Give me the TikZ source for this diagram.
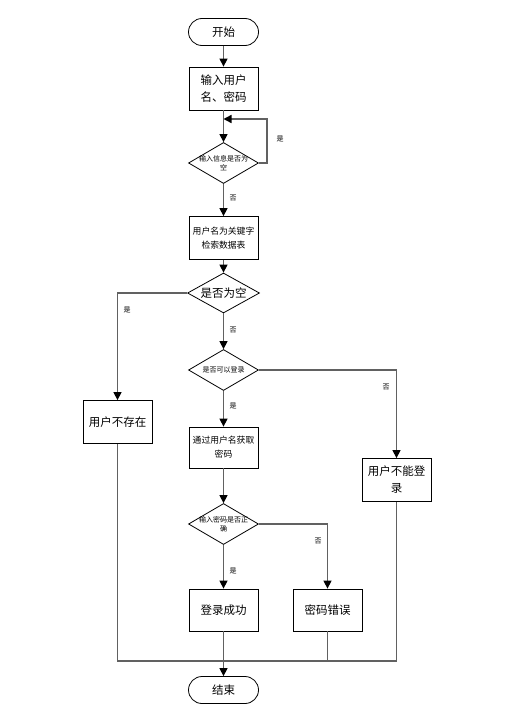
\documentclass[tikz,border=0pt]{standalone}
\usepackage{fontspec}
\setmainfont{Noto Sans CJK SC}
\usetikzlibrary{arrows.meta,shapes.geometric}
\tikzset{
  term/.style={draw=black, line width=0.8pt, rounded corners=13.5pt, minimum width=70pt, minimum height=27pt, inner sep=0pt, font=\fontsize{11.5}{13}\selectfont},
  proc/.style={draw=black, line width=0.8pt, minimum width=69pt, minimum height=43pt, inner sep=0pt, align=center, font=\fontsize{11.5}{17}\selectfont},
  procs/.style={proc, font=\fontsize{8.8}{14}\selectfont},
  dia/.style={draw=black, line width=0.8pt, diamond, inner sep=0pt, minimum width=70pt, minimum height=41pt},
  dtext/.style={align=center, inner sep=0pt, font=\fontsize{7}{9}\selectfont},
  lbl/.style={inner sep=0pt, font=\fontsize{7}{8}\selectfont},
  conn/.style={draw=black!62, line width=1.4pt},
  arr/.style={conn, -{Triangle[width=8pt,length=8pt,color=black]}},
}
\begin{document}
\begin{tikzpicture}[x=1pt,y=-1pt]
\useasboundingbox (0,0) rectangle (506,717);
\def\cx{223.5}
\node[term] (start) at (\cx,32) {开始};
\node[proc] (input) at (\cx,88.5) {输入用户\\名、密码};
\node[dia] (d1) at (\cx,163) {};
\node[dtext] (d1t) at (\cx,163) {输入信息是否为\\空};
\node[procs] (search) at (\cx,238) {用户名为关键字\\检索数据表};
\node[dia, minimum width=72pt, minimum height=40pt] (d2) at (\cx,293) {};
\node[inner sep=0pt, font=\fontsize{11.5}{13}\selectfont] (d2t) at (\cx,293) {是否为空};
\node[proc] (nouser) at (117.5,422) {用户不存在};
\node[dia] (d3) at (\cx,370) {};
\node[dtext] (d3t) at (\cx,370) {是否可以登录};
\node[procs, minimum height=41pt] (getpw) at (\cx,447.5) {通过用户名获取\\密码};
\node[proc, text width=60pt] (cannot) at (396.5,480) {用户不能登\\录};
\node[dia] (d4) at (\cx,524) {};
\node[dtext] (d4t) at (\cx,524) {输入密码是否正\\确};
\node[proc, minimum height=42pt] (succ) at (\cx,610) {登录成功};
\node[proc, minimum height=42pt] (pwerr) at (327.5,610) {密码错误};
\node[term] (end) at (\cx,690) {结束};
\coordinate (loop) at (\cx,119);
\coordinate (merge) at (\cx,661);
\coordinate (mergeR) at (396.5,661);

\draw[arr] (start) -- (input);
\draw[arr] (input) -- (d1);
\draw[arr] (d1.east) -- ++(8,0) |- (loop);
\draw[arr] (d1) -- (search);
\draw[arr] (search) -- (d2);
\draw[arr] (d2.west) -| (nouser.north);
\draw[arr] (d2.south) -- (d3.north);
\draw[arr] (d3.east) -| (cannot.north);
\draw[arr] (d3) -- (getpw);
\draw[arr] (getpw) -- (d4);
\draw[arr] (d4.east) -| (pwerr.north);
\draw[arr] (d4) -- (succ);
\draw[conn] (nouser.south) |- (mergeR);
\draw[conn] (cannot.south) -- (mergeR);
\draw[conn] (pwerr.south) |- (merge);
\draw[arr] (succ.south) -- (end.north);

\node[lbl] (l1) at (280,139) {是};
\node[lbl] (l2) at (233,198) {否};
\node[lbl] (l3) at (127,310) {是};
\node[lbl] (l4) at (233,330) {否};
\node[lbl] (l5) at (386,387) {否};
\node[lbl] (l6) at (233,406) {是};
\node[lbl] (l7) at (318,541) {否};
\node[lbl] (l8) at (233,571) {是};
\end{tikzpicture}
\end{document}
